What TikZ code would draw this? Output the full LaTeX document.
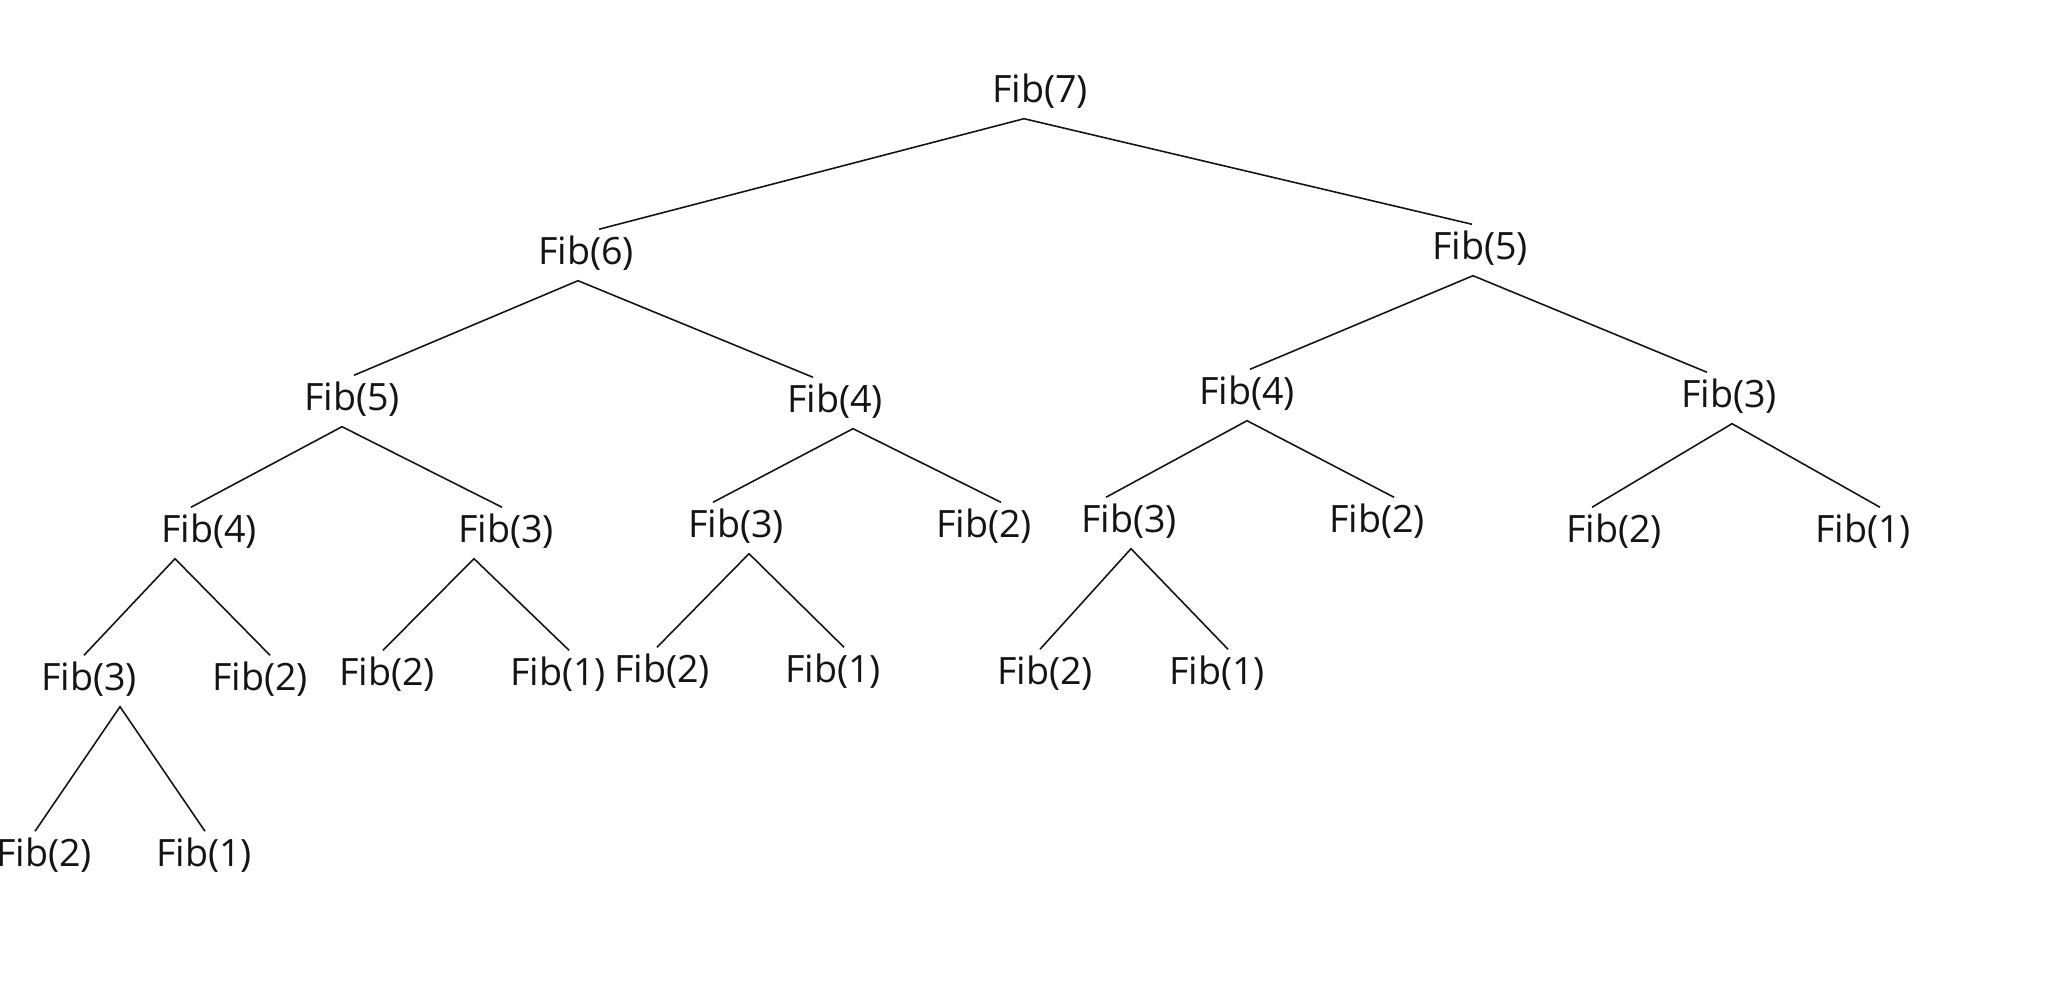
\documentclass[tikz,border=0pt]{standalone}
\usepackage{fontspec}
\setmainfont{Open Sans}
\usepackage{tikz}
\usetikzlibrary{calc}
\definecolor{textblack}{RGB}{20, 20, 20}

\begin{document}
\begin{tikzpicture}[
  x=0.01cm, y=-0.01cm,
  fib/.style={inner sep=0pt, text height=0.35cm, text depth=0.15cm, anchor=base, yshift=-0.03cm, font=\fontsize{10.7}{13}\selectfont, text=textblack},
  link/.style={line width=0.45pt, color=textblack}
]
\useasboundingbox (0,0) rectangle (2048,986);

% Level 0 and 1
\node[fib] (f7) at (1040, 100) {Fib(7)};
\node[fib] (f6) at (586, 262) {Fib(6)};
\node[fib] (f5r) at (1480, 257) {Fib(5)};

% Level 2
\node[fib] (f5a) at (352, 408) {Fib(5)};
\node[fib] (f4a) at (835, 410) {Fib(4)};
\node[fib] (f4b) at (1247, 402) {Fib(4)};
\node[fib] (f3b) at (1729, 405) {Fib(3)};

% Level 3
\node[fib] (f4c) at (209, 540) {Fib(4)};
\node[fib] (f3a) at (506, 540) {Fib(3)};
\node[fib] (f3c) at (736, 535) {Fib(3)};
\node[fib] (f2c) at (984, 535) {Fib(2)};
\node[fib] (f3d) at (1129, 530) {Fib(3)};
\node[fib] (f2d) at (1377, 530) {Fib(2)};
\node[fib] (f2e) at (1614, 540) {Fib(2)};
\node[fib] (f1e) at (1863, 540) {Fib(1)};

% Level 4
\node[fib] (f3e) at (89, 688) {Fib(3)};
\node[fib] (f2f) at (260, 688) {Fib(2)};
\node[fib] (f2g) at (387, 683) {Fib(2)};
\node[fib] (f1g) at (558, 683) {Fib(1)};
\node[fib] (f2h) at (662, 680) {Fib(2)};
\node[fib] (f1h) at (833, 680) {Fib(1)};
\node[fib] (f2i) at (1045, 682) {Fib(2)};
\node[fib] (f1i) at (1217, 682) {Fib(1)};

% Level 5
\node[fib] (f2j) at (44, 864) {Fib(2)};
\node[fib] (f1j) at (204, 864) {Fib(1)};

% Calls
\draw[link] ($(f6.north)+(13,0)$) -- ($(f7.south)+(-16,0)$) -- ($(f5r.north)+(-8,0)$);
\draw[link] ($(f5a.north)+(2,0)$) -- ($(f6.south)+(-8,0)$) -- ($(f4a.north)+(-22,0)$);
\draw[link] ($(f4b.north)+(3,0)$) -- ($(f5r.south)+(-7,0)$) -- ($(f3b.north)+(-22,0)$);
\draw[link] ($(f4c.north)+(-18,0)$) -- ($(f5a.south)+(-10,0)$) -- ($(f3a.north)+(-4,0)$);
\draw[link] ($(f3c.north)+(-23,0)$) -- ($(f4a.south)+(18,0)$) -- ($(f2c.north)+(17,0)$);
\draw[link] ($(f3d.north)+(-23,0)$) -- (f4b.south) -- ($(f2d.north)+(17,0)$);
\draw[link] ($(f2e.north)+(-22,0)$) -- ($(f3b.south)+(3,0)$) -- ($(f1e.north)+(17,0)$);
\draw[link] ($(f3e.north)+(-5,0)$) -- ($(f4c.south)+(-34,0)$) -- ($(f2f.north)+(10,0)$);
\draw[link] ($(f2g.north)+(-4,0)$) -- ($(f3a.south)+(-32,0)$) -- ($(f1g.north)+(11,0)$);
\draw[link] ($(f2h.north)+(-5,0)$) -- ($(f3c.south)+(13,0)$) -- ($(f1h.north)+(11,0)$);
\draw[link] ($(f2i.north)+(-5,0)$) -- ($(f3d.south)+(2,0)$) -- ($(f1i.north)+(11,0)$);
\draw[link] ($(f2j.north)+(-9,0)$) -- ($(f3e.south)+(31,0)$) -- ($(f1j.north)+(1,0)$);

\end{tikzpicture}
\end{document}
